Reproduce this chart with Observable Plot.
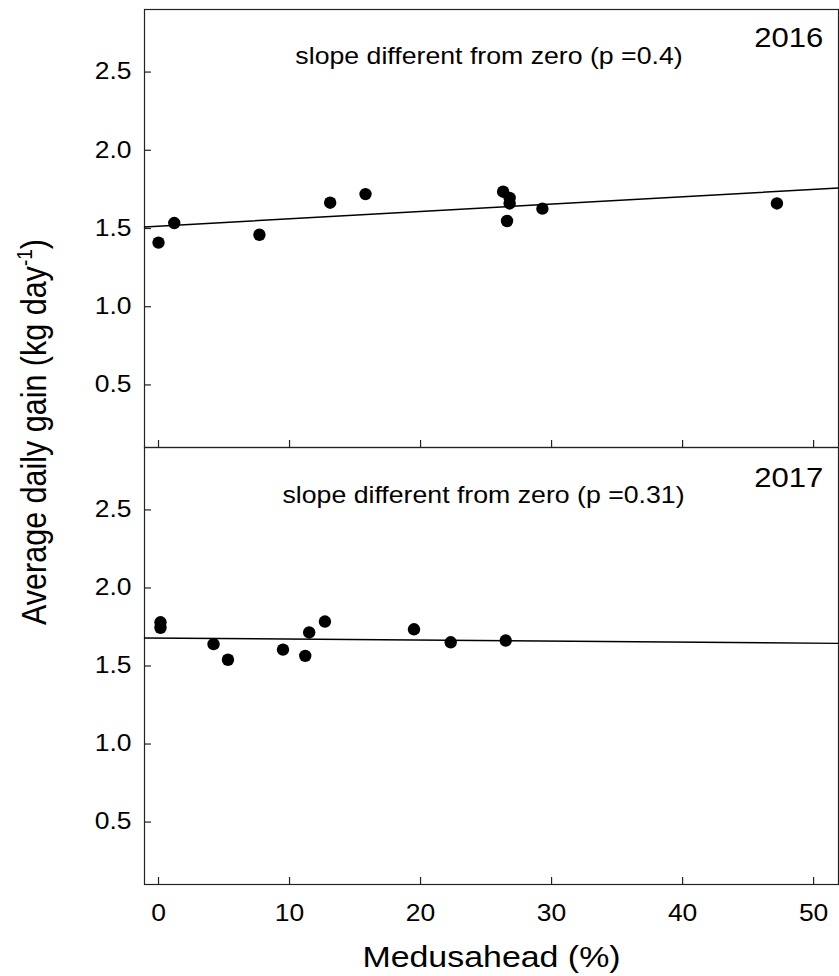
<!DOCTYPE html>
<html><head><meta charset="utf-8">
<script src="https://cdn.jsdelivr.net/npm/d3@7"></script>
<script src="https://cdn.jsdelivr.net/npm/@observablehq/plot@0.6"></script>
<style>
body{margin:0;background:#fff}
#chart{position:relative;width:839px;height:976px;font-family:"Liberation Sans",Arial,sans-serif}
#chart svg{display:block;overflow:visible}
</style></head><body><div id="chart"></div>
<script>
// ---- data ----
const panels = ["2016", "2017"];
const medusa2016 = [0, 1.2, 7.7, 13.1, 15.8, 26.3, 26.8, 26.8, 26.6, 29.3, 47.2];
const adg2016    = [1.41, 1.535, 1.46, 1.665, 1.72, 1.735, 1.695, 1.66, 1.548, 1.627, 1.66];
const medusa2017 = [0.15, 0.15, 4.2, 5.3, 9.5, 11.2, 11.5, 12.7, 19.5, 22.3, 26.5];
const adg2017    = [1.78, 1.745, 1.64, 1.54, 1.605, 1.565, 1.715, 1.785, 1.735, 1.652, 1.663];
const annotations = ["slope different from zero (p =0.4)", "slope different from zero (p =0.31)"];
const fitIntercepts = [1.515, 1.679];
const fitSlopes = [0.0047, -0.00065];
const xTicks = [0, 10, 20, 30, 40, 50];
const yTicks = [0.5, 1.0, 1.5, 2.0, 2.5];
const xDomain = [-1.07, 51.9];
const yDomain = [0.1, 2.9];
const xLabel = "Medusahead (%)";
const yLabelMain = "Average daily gain (kg day";
const yLabelSup = "-1";
const yLabelEnd = ")";

const xs = [medusa2016, medusa2017];
const ys = [adg2016, adg2017];

const W = 839, ML = 144, MR = 1;
const plotW = W - ML - MR;
const STRETCH = 1.15;
const FONT = "Liberation Sans, Arial, sans-serif";

function stretchText(svg, k) {
  d3.select(svg).selectAll("text").each(function () {
    const t = this.getAttribute("transform");
    if (t) {
      this.setAttribute("transform", `${t} scale(${k},1)`);
    } else {
      const xa = this.getAttribute("x");
      const x = xa && !isNaN(+xa) ? +xa : 0;
      if (xa && !isNaN(+xa)) this.removeAttribute("x");
      this.setAttribute("transform", `translate(${x},0) scale(${k},1)`);
    }
  });
}

function panel(i, bottom) {
  const data = xs[i].map((x, j) => ({x, y: ys[i][j]}));
  const fit = xDomain.map(x => ({x, y: fitIntercepts[i] + fitSlopes[i] * x}));
  const height = bottom ? 529 : 447;
  const marginTop = bottom ? 0 : 9;
  const marginBottom = bottom ? 92 : 0;
  const plotH = height - marginTop - marginBottom;
  const marks = [
    Plot.frame({stroke: "#222", strokeWidth: 1.2}),
    Plot.tickY(yTicks, {y: d => d, insetRight: plotW - 7, stroke: "#222", strokeWidth: 1.2}),
    Plot.tickX(xTicks, {x: d => d, insetTop: plotH - 7, stroke: "#222", strokeWidth: 1.2}),
    Plot.axisY({ticks: yTicks, tickSize: 0, tickPadding: 13, tickFormat: d3.format(".1f"), fontSize: 23, label: null}),
    Plot.line(fit, {x: "x", y: "y", stroke: "black", strokeWidth: 1.4}),
    Plot.dot(data, {x: "x", y: "y", r: 6.2, fill: "black", stroke: "none"}),
    Plot.text([annotations[i]], {frameAnchor: "top", dx: i === 0 ? -2.5 : -8, dy: i === 0 ? 54.3 : 55, lineAnchor: "bottom", fontSize: 23.2, fill: "black"}),
    Plot.text([panels[i]], {frameAnchor: "top-right", textAnchor: "end", dx: -15.3, dy: i === 0 ? 37 : 39, lineAnchor: "bottom", fontSize: 27, fill: "black"})
  ];
  if (bottom) {
    marks.push(Plot.axisX({ticks: xTicks, tickSize: 0, tickPadding: 20, fontSize: 23, label: null}));
    marks.push(Plot.text([xLabel], {frameAnchor: "bottom", dy: 72.7, lineAnchor: "middle", fontSize: 29.5, fill: "black"}));
  }
  const svg = Plot.plot({
    width: W, height, marginLeft: ML, marginRight: MR, marginTop, marginBottom,
    x: {domain: xDomain, axis: bottom ? undefined : null},
    y: {domain: yDomain},
    style: {fontFamily: FONT, fontSize: "23px", color: "black", background: "white", overflow: "visible"},
    marks
  });
  stretchText(svg, STRETCH);
  return svg;
}

const chart = document.getElementById("chart");
chart.appendChild(panel(0, false));
chart.appendChild(panel(1, true));

const ov = d3.select(chart).append("svg")
  .attr("width", W).attr("height", 976)
  .style("position", "absolute").style("left", "0px").style("top", "0px")
  .style("pointer-events", "none").style("font-family", FONT);
const t = ov.append("text")
  .attr("transform", `translate(45.7,432) scale(${STRETCH},1) rotate(-90)`)
  .attr("text-anchor", "middle").attr("fill", "black").style("font-size", "30.5px");
t.append("tspan").text(yLabelMain);
t.append("tspan").attr("dy", -12).style("font-size", "19px").text(yLabelSup);
t.append("tspan").attr("dy", 12).text(yLabelEnd);
</script>
</body></html>
